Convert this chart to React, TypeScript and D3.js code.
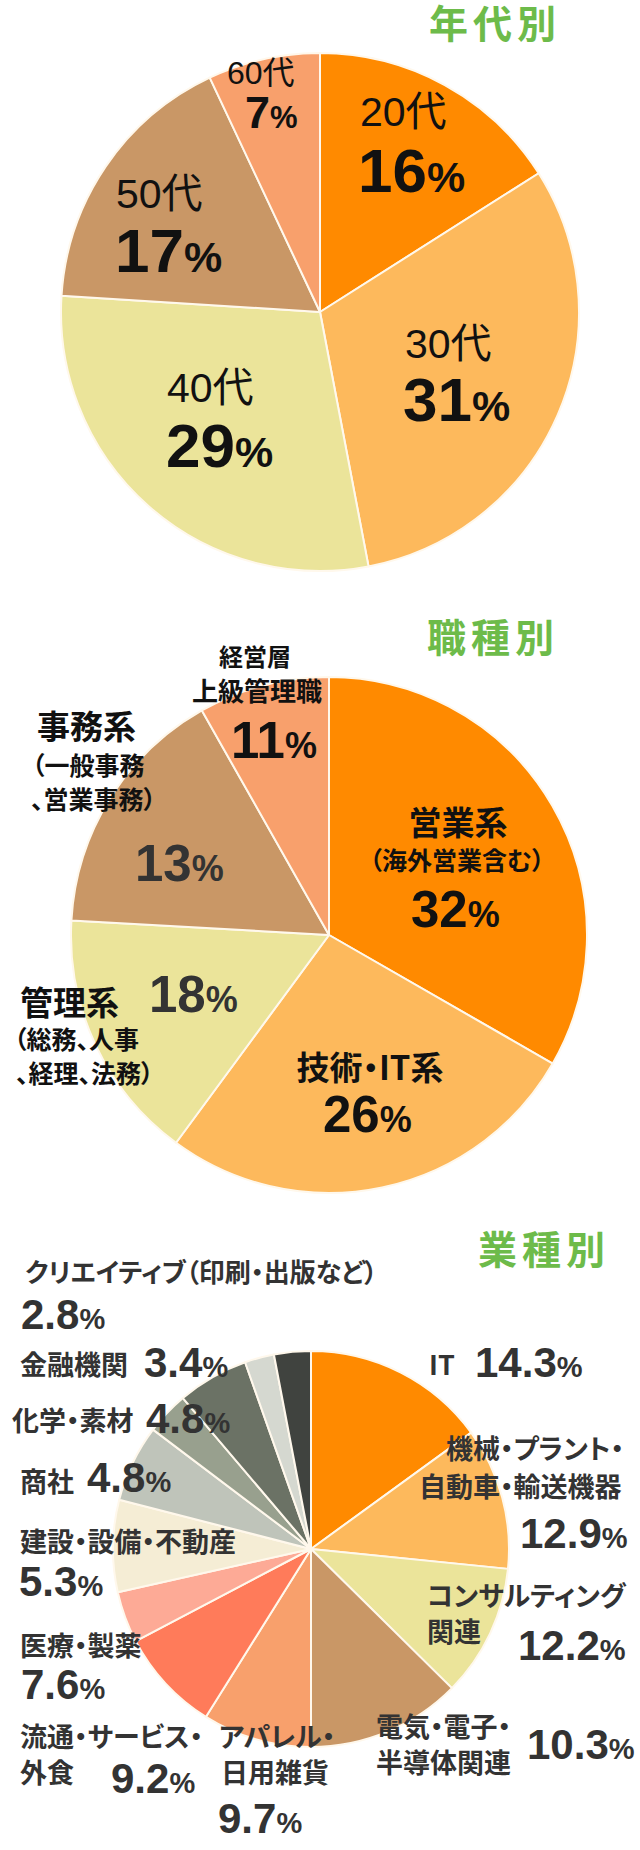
import React from 'react';
import * as d3 from 'd3';

// ---------- data ----------
// 年代別
const ageNames = ['20代', '30代', '40代', '50代', '60代'];
const ageShares = [16, 31, 29, 17, 7];
const agePercents = ['16', '31', '29', '17', '7'];
const ageColors = ['#FF8A00', '#FDB95C', '#EBE49A', '#C99766', '#F8A06C'];

// 職種別 (slice sizes as drawn, labels as printed)
const jobNames = ['営業系\n（海外営業含む）', '技術・IT系', '管理系\n（総務、人事\n、経理、法務）', '事務系\n（一般事務\n、営業事務）', '経営層\n上級管理職'];
const jobShares = [33.3, 26.8, 15.8, 15.9, 8.2];
const jobPercents = ['32', '26', '18', '13', '11'];
const jobColors = ['#FF8A00', '#FDB95C', '#EBE49A', '#C99766', '#F8A06C'];

// 業種別
const indNames = ['IT', '機械・プラント・\n自動車・輸送機器', 'コンサルティング\n関連', '電気・電子・\n半導体関連', 'アパレル・\n日用雑貨', '流通・サービス・\n外食', '医療・製薬', '建設・設備・不動産', '商社', '化学・素材', '金融機関', 'クリエイティブ（印刷・出版など）', ''];
const indShares = [15.0, 11.6, 10.8, 12.6, 8.9, 8.4, 4.2, 7.5, 6.3, 3.5, 5.8, 2.4, 3.0];
const indPercents = ['14.3', '12.9', '12.2', '10.3', '9.7', '9.2', '7.6', '5.3', '4.8', '4.8', '3.4', '2.8', ''];
const indColors = ['#FF8A00', '#FDB95C', '#EBE49A', '#C99766', '#F8A06C', '#FF7B5A', '#FDAA96', '#F5EDD5', '#BFC4BA', '#98A08E', '#6B7265', '#D5D8D0', '#40433F'];

const titles = ['年代別', '職種別', '業種別'];

// ---------- layout ----------
type LineLayout = { x: number; y: number; size: number; anchor?: string };
type PctLayout = { x: number; y: number; size: number; color?: string };

const pies = [
  { cx: 320, cy: 312, r: 259, title: { x: 429, y: 38 } },
  { cx: 329, cy: 935, r: 258, title: { x: 427, y: 652 } },
  { cx: 311, cy: 1549, r: 198, title: { x: 478, y: 1264 } },
];

const ageLines: LineLayout[][] = [
  [{ x: 360, y: 126, size: 41 }],
  [{ x: 405, y: 358, size: 41 }],
  [{ x: 167, y: 402, size: 41 }],
  [{ x: 116, y: 208, size: 41 }],
  [{ x: 227, y: 84, size: 32 }],
];
const agePct: PctLayout[] = [
  { x: 358, y: 192, size: 62 },
  { x: 403, y: 421, size: 62 },
  { x: 166, y: 467, size: 62 },
  { x: 115, y: 272, size: 62 },
  { x: 245, y: 128, size: 45 },
];

const jobLines: LineLayout[][] = [
  [{ x: 458, y: 835, size: 33, anchor: 'middle' }, { x: 457, y: 870, size: 25, anchor: 'middle' }],
  [{ x: 370, y: 1080, size: 33, anchor: 'middle' }],
  [{ x: 20, y: 1015, size: 33 }, { x: 14, y: 1049, size: 25 }, { x: 16, y: 1083, size: 25 }],
  [{ x: 37, y: 739, size: 33 }, { x: 32, y: 775, size: 25 }, { x: 31, y: 809, size: 25 }],
  [{ x: 255, y: 666, size: 24, anchor: 'middle' }, { x: 257, y: 701, size: 26, anchor: 'middle' }],
];
const jobPct: PctLayout[] = [
  { x: 411, y: 927, size: 51 },
  { x: 323, y: 1132, size: 51 },
  { x: 149, y: 1012, size: 51, color: '#333333' },
  { x: 135, y: 881, size: 51, color: '#333333' },
  { x: 231, y: 758, size: 51 },
];

const indLines: LineLayout[][] = [
  [{ x: 429, y: 1375, size: 27 }],
  [{ x: 446, y: 1459, size: 27 }, { x: 419, y: 1497, size: 27 }],
  [{ x: 427, y: 1606, size: 27 }, { x: 427, y: 1642, size: 27 }],
  [{ x: 376, y: 1737, size: 27 }, { x: 376, y: 1773, size: 27 }],
  [{ x: 219, y: 1747, size: 27 }, { x: 221, y: 1783, size: 27 }],
  [{ x: 20, y: 1747, size: 27 }, { x: 20, y: 1783, size: 27 }],
  [{ x: 20, y: 1656, size: 27 }],
  [{ x: 20, y: 1552, size: 27 }],
  [{ x: 20, y: 1492, size: 27 }],
  [{ x: 12, y: 1431, size: 27 }],
  [{ x: 20, y: 1375, size: 27 }],
  [{ x: 25, y: 1282, size: 26 }],
  [],
];
const indPct: PctLayout[] = [
  { x: 475, y: 1377, size: 42 },
  { x: 520, y: 1548, size: 42 },
  { x: 518, y: 1660, size: 42 },
  { x: 527, y: 1759, size: 42 },
  { x: 218, y: 1833, size: 42 },
  { x: 111, y: 1793, size: 42 },
  { x: 21, y: 1699, size: 42 },
  { x: 19, y: 1596, size: 42 },
  { x: 87, y: 1492, size: 42 },
  { x: 146, y: 1433, size: 42 },
  { x: 144, y: 1377, size: 42 },
  { x: 21, y: 1329, size: 42 },
  { x: 0, y: 0, size: 0 },
];

const NUM_FONT = "'Liberation Sans', Arial, 'Noto Sans CJK JP', sans-serif";
const CJK_FONT = "'Noto Sans CJK JP', 'Liberation Sans', sans-serif";
const GREEN = '#6DBB4A';

function Pie({ idx, shares, colors }: { idx: number; shares: number[]; colors: string[] }) {
  const p = pies[idx];
  const arcs = d3.pie<number>().sort(null).value((d) => d)(shares);
  const arc = d3.arc<d3.PieArcDatum<number>>().innerRadius(0).outerRadius(p.r);
  return (
    <g transform={`translate(${p.cx},${p.cy})`}>
      {arcs.map((a, i) => (
        <path key={i} d={arc(a) || ''} fill={colors[i]} stroke="#FFF8EC" strokeWidth={2} strokeLinejoin="round" />
      ))}
    </g>
  );
}

function Title({ idx }: { idx: number }) {
  const p = pies[idx];
  return (
    <text x={p.title.x} y={p.title.y} fontFamily={CJK_FONT} fontWeight={700} fontSize={39} fill={GREEN} letterSpacing={5}>
      {titles[idx]}
    </text>
  );
}

function Pct({ value, l, color }: { value: string; l: PctLayout; color: string }) {
  if (!value) return null;
  return (
    <text x={l.x} y={l.y} fontFamily={NUM_FONT} fontWeight={700} fill={l.color || color}>
      <tspan fontSize={l.size}>{value}</tspan>
      <tspan fontSize={Math.round(l.size * 0.7)}>%</tspan>
    </text>
  );
}

function Labels({ names, lines, pcts, percents, color, weight, font }: {
  names: string[]; lines: LineLayout[][]; pcts: PctLayout[]; percents: string[]; color: string; weight: number; font: string;
}) {
  return (
    <g>
      {names.map((n, i) => {
        const parts = n ? n.split('\n') : [];
        return (
          <g key={i}>
            {parts.map((t, j) => {
              const l = lines[i][j];
              return (
                <text key={j} x={l.x} y={l.y} fontSize={l.size} fontFamily={font} fontWeight={weight}
                  textAnchor={(l.anchor as any) || 'start'} fill={color}
                  style={{ fontFeatureSettings: '"palt"' }}>
                  {t}
                </text>
              );
            })}
            <Pct value={percents[i]} l={pcts[i]} color={color} />
          </g>
        );
      })}
    </g>
  );
}

export default function App() {
  return (
    <svg width={640} height={1850} viewBox="0 0 640 1850" style={{ position: 'absolute', left: 0, top: 0, background: '#fff' }}>
      <rect x={0} y={0} width={640} height={1850} fill="#fff" />
      <Title idx={0} />
      <Pie idx={0} shares={ageShares} colors={ageColors} />
      <Labels names={ageNames} lines={ageLines} pcts={agePct} percents={agePercents} color="#111" weight={400} font={NUM_FONT} />

      <Title idx={1} />
      <Pie idx={1} shares={jobShares} colors={jobColors} />
      <Labels names={jobNames} lines={jobLines} pcts={jobPct} percents={jobPercents} color="#111" weight={700} font={CJK_FONT} />

      <Title idx={2} />
      <Pie idx={2} shares={indShares} colors={indColors} />
      <Labels names={indNames} lines={indLines} pcts={indPct} percents={indPercents} color="#333" weight={700} font={CJK_FONT} />
    </svg>
  );
}
